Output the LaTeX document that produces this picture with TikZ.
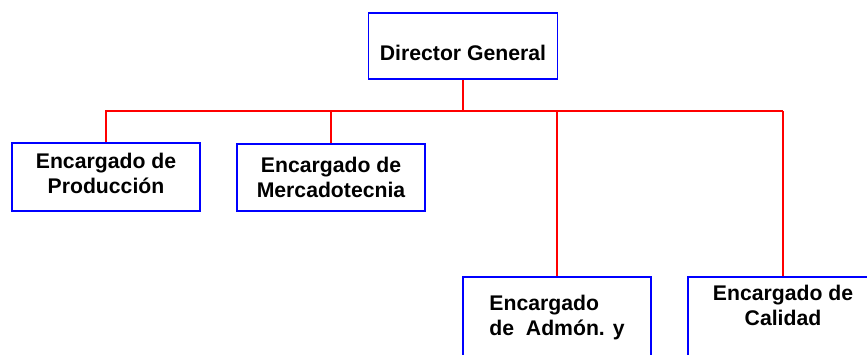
\documentclass[tikz,border=0pt]{standalone}
\usepackage{fontspec}
\setmainfont{Liberation Sans}

\tikzset{
    cargo/.style={draw=blue, line width=1.6pt, minimum width=188pt,
        minimum height=68pt, inner sep=0pt, align=center,
        font=\bfseries\fontsize{21.2}{25}\selectfont},
    rama/.style={draw=red, line width=1.6pt}
}

\begin{document}
\begin{tikzpicture}[x=1pt, y=-1pt]
    \useasboundingbox (0, 0) rectangle (867, 354);
    \clip (0, 0) rectangle (867, 354);

    \node [cargo, minimum width=189pt, minimum height=66pt,
        text height=28pt, text depth=0pt] (dir) at (463, 46) {Director General};

    \node [cargo, text height=32pt, text depth=0pt] (prod) at (106, 177)
        {Encargado de\\Producción};
    \node [cargo, minimum height=67pt, text height=39pt, text depth=0pt] (merc) at (331, 177.5)
        {Encargado de\\Mercadotecnia};
    \node [cargo, minimum height=100pt, align=left,
        text height=16pt, text depth=0pt] (adm) at (557, 327)
        {Encargado\\de \ Admón. y};
    \node [cargo, minimum width=190pt, minimum height=100pt,
        text height=16pt, text depth=20pt] (cal) at (783, 327)
        {Encargado de\\Calidad};

    \coordinate (busL) at (105, 111);
    \coordinate (busR) at (783, 111);

    \draw [rama] (busL) -- (busR);
    \draw [rama] (dir.south) -- (dir.south |- busR);
    \draw [rama] (prod.north |- busL) -- (prod.north);
    \draw [rama] (merc.north |- busL) -- (merc.north);
    \draw [rama] (adm.north |- busL) -- (adm.north);
    \draw [rama] (busR) -- (cal.north);
\end{tikzpicture}
\end{document}
